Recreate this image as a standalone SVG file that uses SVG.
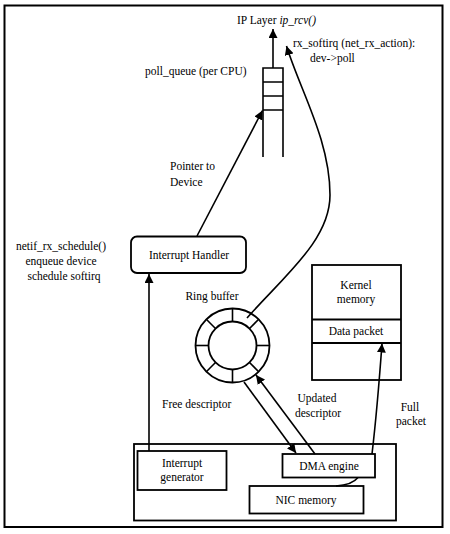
<svg xmlns="http://www.w3.org/2000/svg" width="450" height="534" viewBox="0 0 450 534">
<defs>
<marker id="ah" markerUnits="userSpaceOnUse" markerWidth="10" markerHeight="9" refX="9" refY="4.5" orient="auto">
<path d="M0,0 L9,4.5 L0,9 z" fill="#000"/>
</marker>
</defs>
<style>
text{font-family:"Liberation Serif","Times New Roman",serif;font-size:11.5px;fill:#000}
.m{text-anchor:middle}
.box{fill:#fff;stroke:#000;stroke-width:1.8}
.ln{fill:none;stroke:#000;stroke-width:1.6}
.c{fill:none;stroke:#000;stroke-width:1.6;marker-end:url(#ah)}
</style>
<rect x="0" y="0" width="450" height="534" fill="#fff"/>
<rect x="4.5" y="5.5" width="438" height="521.5" fill="none" stroke="#000" stroke-width="2"/>

<g id="ip-layer">
<text x="237" y="24">IP Layer <tspan font-style="italic">ip_rcv()</tspan></text>
</g>
<g id="rx-softirq-label">
<text x="293" y="47">rx_softirq (net_rx_action):</text>
<text x="310" y="62">dev-&gt;poll</text>
</g>
<g id="poll-queue">
<text x="145" y="75">poll_queue (per CPU)</text>
<path class="ln" stroke-width="2" d="M263 157 V68 H283 V157 M263 82 H283 M263 96 H283 M263 110 H283"/>
</g>
<g id="pointer-label">
<text x="170" y="170">Pointer to</text>
<text x="170" y="186">Device</text>
</g>
<g id="netif-label">
<text class="m" x="61" y="250">netif_rx_schedule()</text>
<text class="m" x="61" y="265">enqueue device</text>
<text class="m" x="64" y="280">schedule softirq</text>
</g>
<g id="interrupt-handler">
<rect class="box" x="131" y="236.5" width="115" height="36.5" rx="6"/>
<text class="m" x="189" y="259">Interrupt Handler</text>
</g>
<g id="ring-buffer">
<text class="m" x="212" y="300">Ring buffer</text>
<circle cx="232.5" cy="345.5" r="37" fill="none" stroke="#000" stroke-width="1.8"/>
<circle cx="232.5" cy="345.5" r="24" fill="none" stroke="#000" stroke-width="1.8"/>
<g transform="translate(232.5 345.5)" stroke="#000" stroke-width="1.6">
<line x1="0" y1="-24" x2="0" y2="-37"/>
<line x1="0" y1="24" x2="0" y2="37"/>
<line x1="-24" y1="0" x2="-37" y2="0"/>
<line x1="24" y1="0" x2="37" y2="0"/>
<line x1="17" y1="-17" x2="26.2" y2="-26.2"/>
<line x1="-17" y1="-17" x2="-26.2" y2="-26.2"/>
<line x1="17" y1="17" x2="26.2" y2="26.2"/>
<line x1="-17" y1="17" x2="-26.2" y2="26.2"/>
</g>
</g>
<g id="kernel-memory">
<rect class="box" x="312" y="265" width="89" height="115"/>
<line x1="312" y1="319.5" x2="401" y2="319.5" stroke="#000" stroke-width="1.8"/>
<line x1="312" y1="343" x2="401" y2="343" stroke="#000" stroke-width="1.8"/>
<text class="m" x="356" y="289">Kernel</text>
<text class="m" x="356" y="303">memory</text>
<text class="m" x="356" y="335">Data packet</text>
</g>
<g id="labels">
<text x="162" y="408">Free descriptor</text>
<text class="m" x="317" y="402">Updated</text>
<text class="m" x="318" y="417">descriptor</text>
<text class="m" x="410" y="411">Full</text>
<text class="m" x="411" y="425">packet</text>
</g>
<g id="nic">
<rect class="box" x="134" y="444" width="262" height="76.5"/>
</g>
<g id="interrupt-generator">
<rect class="box" x="137.5" y="451" width="89" height="39"/>
<text class="m" x="182" y="467">Interrupt</text>
<text class="m" x="182" y="481">generator</text>
</g>
<g id="dma-engine">
<rect class="box" x="282.5" y="454" width="92.5" height="23.5"/>
<text class="m" x="329" y="470">DMA engine</text>
</g>
<g id="nic-memory">
<rect class="box" x="249.5" y="486" width="114" height="27.5"/>
<text class="m" x="306" y="504">NIC memory</text>
</g>

<g id="connectors">
<path class="c" d="M273 68 V29"/>
<path class="c" d="M247 318 C285 275 330 240 330 195 C330 140 300 90 286.5 46"/>
<path class="c" d="M197 236 L262.5 110.5"/>
<path class="c" d="M149 451 V274"/>
<path class="c" d="M244 382 L296 453"/>
<path class="c" d="M315 454 L256 375"/>
<path class="c" d="M372 454 C376 420 379 385 382 343.5"/>
<path class="ln" d="M358 477.5 Q352 485 336 486"/>
</g>
</svg>
